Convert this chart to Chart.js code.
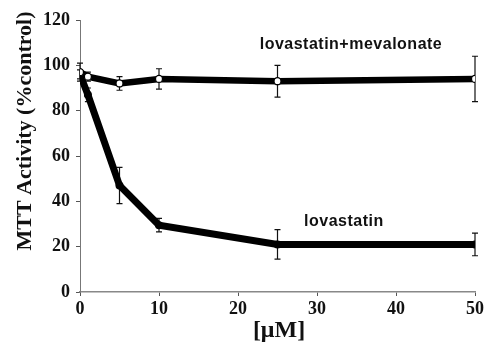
<!DOCTYPE html>
<html>
<head>
<meta charset="utf-8">
<script src="https://cdn.jsdelivr.net/npm/chart.js@4.4.1/dist/chart.umd.min.js"></script>
<style>
  html, body { margin: 0; padding: 0; background: #fff; }
  #wrap { width: 491px; height: 351px; }
</style>
</head>
<body>
<div id="wrap"><canvas id="c" width="491" height="351"></canvas></div>
<script>
// Concentration (µM) and MTT activity (% of control)
const concentrations = [0, 1, 5, 10, 25, 50];
const mevalonateValues = [97, 95, 92, 94, 93, 94];
const mevalonateErrors = [4, 2, 3, 4.5, 7, 10];
const lovastatinValues = [96, 87, 47, 29.5, 21, 21];
const lovastatinErrors = [2, 3, 8, 3, 6.5, 5];
const xTicks = [0, 10, 20, 30, 40, 50];
const yTicks = [0, 20, 40, 60, 80, 100, 120];

const serif = '"Liberation Serif", "Times New Roman", serif';
const sans = '"Liberation Sans", Arial, sans-serif';

function toPoints(xs, ys) {
  return xs.map((x, i) => ({ x: x, y: ys[i] }));
}

// Vertical error bars with short caps, drawn beneath the lines
const errorBars = {
  id: 'errorBars',
  beforeDatasetsDraw(chart) {
    const ctx = chart.ctx;
    const xs = chart.scales.x, ys = chart.scales.y;
    ctx.save();
    ctx.strokeStyle = '#111';
    ctx.lineWidth = 1.2;
    chart.data.datasets.forEach(ds => {
      ds.data.forEach((p, i) => {
        const e = ds.errors[i];
        const px = xs.getPixelForValue(p.x);
        const top = ys.getPixelForValue(p.y + e);
        const bot = ys.getPixelForValue(p.y - e);
        ctx.beginPath();
        ctx.moveTo(px, top); ctx.lineTo(px, bot);
        ctx.moveTo(px - 3, top); ctx.lineTo(px + 3, top);
        ctx.moveTo(px - 3, bot); ctx.lineTo(px + 3, bot);
        ctx.stroke();
      });
    });
    ctx.restore();
  }
};

// Series names written beside their curves, plus the axis titles
const seriesLabels = [
  { text: 'lovastatin+mevalonate', x: 34.3, y: 109 },
  { text: 'lovastatin', x: 33.4, y: 31 }
];
const textPlugin = {
  id: 'texts',
  afterDraw(chart) {
    const ctx = chart.ctx;
    const xs = chart.scales.x, ys = chart.scales.y;
    ctx.save();
    ctx.fillStyle = '#111';
    ctx.textAlign = 'center';
    ctx.textBaseline = 'middle';
    ctx.font = 'bold 16px ' + sans;
    ctx.letterSpacing = '0.5px';
    seriesLabels.forEach(l => {
      ctx.fillText(l.text, xs.getPixelForValue(l.x), ys.getPixelForValue(l.y));
    });
    ctx.letterSpacing = '0px';
    // x-axis title
    ctx.font = 'bold 24px ' + serif;
    ctx.fillText('[\u03BCM]', 279, 331);
    // y-axis title
    ctx.translate(25, 131);
    ctx.rotate(-Math.PI / 2);
    ctx.font = 'bold 22px ' + serif;
    ctx.fillText('MTT Activity (%control)', 0, 0);
    ctx.restore();
  }
};

new Chart(document.getElementById('c'), {
  type: 'line',
  data: {
    datasets: [
      {
        label: 'lovastatin+mevalonate',
        data: toPoints(concentrations, mevalonateValues),
        errors: mevalonateErrors,
        borderColor: '#000',
        borderWidth: 6.5,
        pointRadius: 3.5,
        pointBackgroundColor: '#fff',
        pointBorderColor: '#000',
        pointBorderWidth: 1.3,
        tension: 0
      },
      {
        label: 'lovastatin',
        data: toPoints(concentrations, lovastatinValues),
        errors: lovastatinErrors,
        borderColor: '#000',
        borderWidth: 7,
        pointRadius: 4,
        pointBackgroundColor: '#000',
        pointBorderColor: '#000',
        pointBorderWidth: 0,
        tension: 0
      }
    ]
  },
  options: {
    responsive: false,
    animation: false,
    devicePixelRatio: 1,
    layout: { padding: { left: 0, right: 16, top: 20, bottom: 0 } },
    plugins: { legend: { display: false }, tooltip: { enabled: false } },
    scales: {
      x: {
        type: 'linear',
        min: 0, max: 50,
        afterFit(s) { s.height = 59; },
        afterBuildTicks(s) { s.ticks = xTicks.map(v => ({ value: v })); },
        grid: { display: true, drawOnChartArea: false, tickLength: 4, color: '#555' },
        border: { display: true, color: '#888', width: 1.5 },
        ticks: { color: '#111', font: { family: serif, size: 18, weight: 'bold' }, padding: 3, maxRotation: 0 }
      },
      y: {
        min: 0, max: 120,
        afterFit(s) { s.width = 80; },
        afterBuildTicks(s) { s.ticks = yTicks.map(v => ({ value: v })); },
        grid: { display: true, drawOnChartArea: false, tickLength: 4, color: '#555' },
        border: { display: true, color: '#777', width: 1, dash: [2, 3] },
        ticks: { color: '#111', font: { family: serif, size: 18, weight: 'bold' }, padding: 6 }
      }
    }
  },
  plugins: [errorBars, textPlugin]
});
</script>
</body>
</html>
